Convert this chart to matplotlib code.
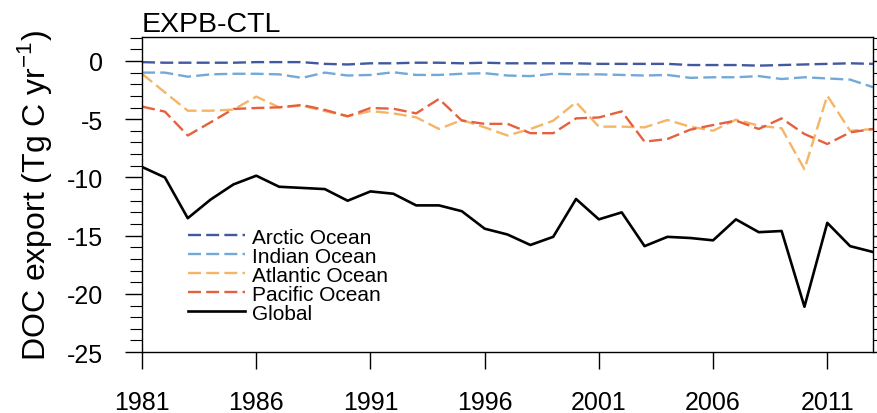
import numpy as np
import matplotlib
matplotlib.use('Agg')
import matplotlib.pyplot as plt
from matplotlib.ticker import MultipleLocator

plt.rcParams['font.family'] = ['Liberation Sans', 'DejaVu Sans']
plt.rcParams['axes.unicode_minus'] = False

# DOC export anomaly (EXPB minus CTL), Tg C per year
years = np.arange(1981, 2014)

arctic = [-0.1, -0.15, -0.15, -0.15, -0.15, -0.1, -0.1, -0.1, -0.25, -0.3, -0.2,
          -0.2, -0.15, -0.15, -0.2, -0.15, -0.2, -0.2, -0.2, -0.2, -0.25, -0.25,
          -0.25, -0.25, -0.35, -0.35, -0.35, -0.4, -0.35, -0.3, -0.25, -0.2, -0.25]

indian = [-1.0, -1.0, -1.35, -1.15, -1.1, -1.1, -1.15, -1.45, -1.0, -1.25, -1.2,
          -0.97, -1.2, -1.2, -1.1, -1.05, -1.25, -1.3, -1.1, -1.15, -1.15, -1.2,
          -1.25, -1.2, -1.45, -1.4, -1.4, -1.3, -1.55, -1.4, -1.5, -1.6, -2.25]

atlantic = [-1.1, -2.7, -4.27, -4.27, -4.18, -3.06, -3.98, -3.84, -4.3, -4.75, -4.3,
            -4.5, -4.84, -5.84, -5.07, -5.7, -6.4, -5.84, -5.13, -3.55, -5.64, -5.64,
            -5.7, -5.07, -5.64, -5.99, -5.04, -5.55, -5.78, -9.3, -2.98, -6.0, -5.84]

pacific = [-3.92, -4.35, -6.4, -5.27, -4.12, -4.04, -3.98, -3.78, -4.2, -4.75, -4.04,
           -4.1, -4.5, -3.26, -5.12, -5.4, -5.4, -6.2, -6.2, -4.93, -4.85, -4.33,
           -6.93, -6.7, -5.9, -5.5, -5.12, -5.84, -4.93, -6.27, -7.13, -6.13, -5.84]

glob = [-9.1, -10.0, -13.5, -11.9, -10.6, -9.85, -10.8, -10.9, -11.0, -12.0, -11.2,
        -11.4, -12.4, -12.4, -12.9, -14.4, -14.9, -15.8, -15.1, -11.85, -13.6, -13.0,
        -15.9, -15.1, -15.2, -15.4, -13.6, -14.7, -14.6, -21.1, -13.9, -15.9, -16.4]

fig = plt.figure(figsize=(8.77, 4.14), dpi=100)
ax = fig.add_axes([0.162, 0.147, 0.9954 - 0.162, 0.908 - 0.147])

dash = (5.5, 2.2)
ax.plot(years, arctic, color='#42589f', lw=1.7, dashes=dash, label='Arctic Ocean')
ax.plot(years, indian, color='#72a9d8', lw=1.7, dashes=dash, label='Indian Ocean')
ax.plot(years, atlantic, color='#f4b567', lw=1.7, dashes=dash, label='Atlantic Ocean')
ax.plot(years, pacific, color='#e5603f', lw=1.7, dashes=dash, label='Pacific Ocean')
ax.plot(years, glob, color='black', lw=1.9, label='Global')

ax.set_xlim(1981, 2013)
ax.set_ylim(-25, 2.05)
ax.set_xticks(np.arange(1981, 2013, 5))
ax.yaxis.set_major_locator(MultipleLocator(5))
ax.yaxis.set_minor_locator(MultipleLocator(1))

ax.tick_params(axis='x', which='major', direction='out', length=12, width=1,
               labelsize=18, pad=15, top=False)
ax.tick_params(axis='y', which='major', direction='out', length=12, width=1,
               labelsize=18, pad=16, right=True)
ax.tick_params(axis='y', which='minor', direction='out', length=9, width=0.8,
               right=True)
for s in ax.spines.values():
    s.set_linewidth(1.0)

ax.set_ylabel('DOC export (Tg C yr$^{\\mathregular{-1}}$)', fontsize=23, labelpad=9)
ax.set_title('EXPB-CTL', loc='left', fontsize=20.5, pad=1)

ax.legend(loc='upper left', bbox_to_anchor=(0.063, 0.395), frameon=False,
          fontsize=15, handlelength=2.75, handletextpad=0.3, labelspacing=0.0,
          borderpad=0, borderaxespad=0)

fig.savefig('out.png', dpi=100)
